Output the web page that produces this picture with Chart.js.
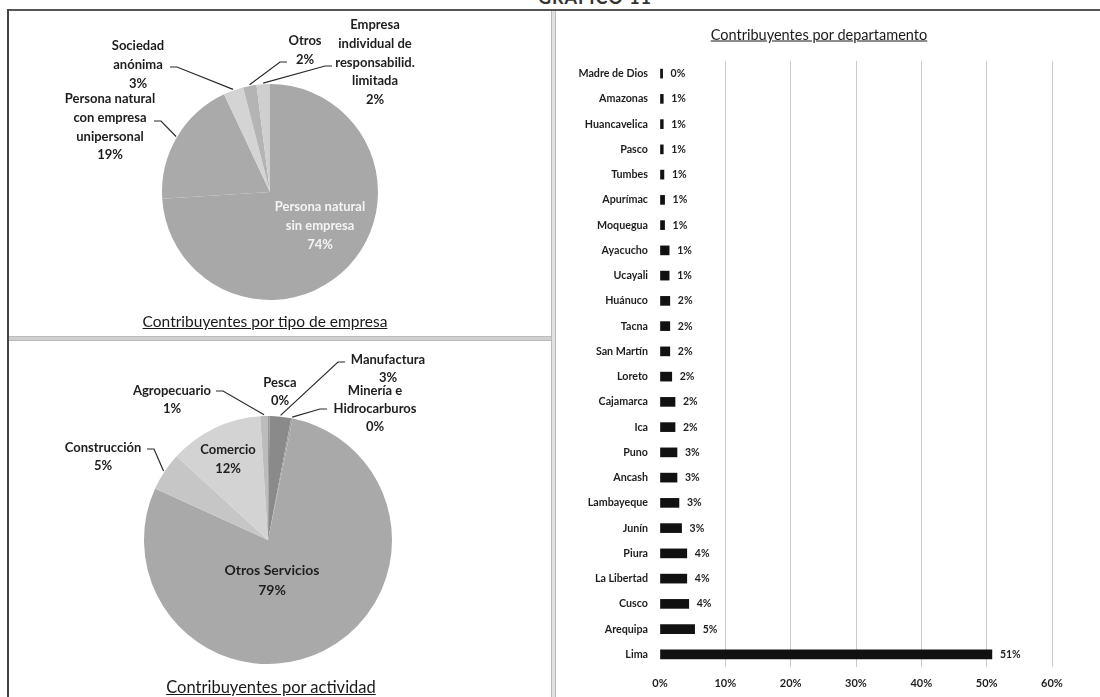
<!DOCTYPE html>
<html>
<head>
<meta charset="utf-8">
<script src="https://cdn.jsdelivr.net/npm/chart.js@4.4.1/dist/chart.umd.min.js"></script>
<style>
  html, body { margin: 0; padding: 0; background: #fff; }
  body { width: 1100px; height: 697px; position: relative; overflow: hidden; font-family: Lato, "Open Sans", sans-serif; }
  .box { position: absolute; }
  .title { position: absolute; text-align: center; text-decoration: underline; color: #1a1a1a; white-space: nowrap; transform: translate(-50%, -50%); }
</style>
</head>
<body>
<script>
// ---------- DATA ----------
const empresaCategories = [
  ['Persona natural', 'sin empresa'],
  ['Persona natural', 'con empresa', 'unipersonal'],
  ['Sociedad', 'anónima'],
  ['Otros'],
  ['Empresa', 'individual de', 'responsabilid.', 'limitada']
];
const empresaValues = [74, 19, 3, 2, 2];

const actividadCategories = [
  ['Pesca'],
  ['Manufactura'],
  ['Minería e', 'Hidrocarburos'],
  ['Otros Servicios'],
  ['Construcción'],
  ['Comercio'],
  ['Agropecuario']
];
const actividadValues = [0.2, 2.8, 0.2, 78.6, 5, 12.2, 1];

const departamentos = ['Madre de Dios', 'Amazonas', 'Huancavelica', 'Pasco', 'Tumbes', 'Apurímac', 'Moquegua',
  'Ayacucho', 'Ucayali', 'Huánuco', 'Tacna', 'San Martín', 'Loreto', 'Cajamarca', 'Ica', 'Puno', 'Ancash',
  'Lambayeque', 'Junín', 'Piura', 'La Libertad', 'Cusco', 'Arequipa', 'Lima'];
const departamentoValues = [0.4, 0.5, 0.5, 0.5, 0.6, 0.7, 0.7, 1.4, 1.4, 1.5, 1.5, 1.5, 1.8, 2.3, 2.3, 2.6, 2.6,
  2.9, 3.3, 4.1, 4.1, 4.4, 5.3, 50.8];
const xTicks = [0, 10, 20, 30, 40, 50, 60];
</script>

<!-- frame lines -->
<div class="title" style="left:595px;top:-3px;font-weight:700;font-size:18px;text-decoration:none;color:#333;letter-spacing:1px;">GRÁFICO 11</div>
<div class="box" style="left:8px;top:9px;width:1092px;height:2px;background:#555;"></div>
<div class="box" style="left:0px;top:0px;width:1100px;height:9px;overflow:hidden;"></div>
<div class="box" style="left:7px;top:9px;width:2px;height:688px;background:#444;"></div>
<div class="box" style="left:9px;top:336px;width:542px;height:3px;background:#d0d0d0;border-top:1px solid #bbb;border-bottom:1px solid #bbb;"></div>
<div class="box" style="left:551px;top:11px;width:3px;height:686px;background:#e0e0e0;border-left:1px solid #bbb;border-right:1px solid #bbb;"></div>
<div class="box" style="left:0px;top:11px;width:1100px;height:10px;background:#fff;"></div>
<div class="box" style="left:7px;top:11px;width:2px;height:10px;background:#444;"></div>
<div class="box" style="left:551px;top:11px;width:3px;height:10px;background:#e0e0e0;border-left:1px solid #bbb;border-right:1px solid #bbb;"></div>

<div class="box" style="left:10px;top:12px;width:538px;height:322px;"><canvas id="c1"></canvas></div>
<div class="box" style="left:10px;top:342px;width:538px;height:355px;"><canvas id="c2"></canvas></div>
<div class="box" style="left:553px;top:12px;width:547px;height:685px;"><canvas id="c3"></canvas></div>

<div class="title" style="left:265px;top:321px;font-size:15.5px;">Contribuyentes por tipo de empresa</div>
<div class="title" style="left:271px;top:687px;font-size:16.5px;">Contribuyentes por actividad</div>
<div class="title" style="left:819px;top:34px;font-size:14.5px;">Contribuyentes por departamento</div>

<script>
Chart.defaults.font.family = 'Lato, "Open Sans", sans-serif';
Chart.defaults.animation = false;
Chart.defaults.plugins.legend.display = false;
Chart.defaults.plugins.tooltip.enabled = false;

const pieLabels = {
  id: 'pieLabels',
  afterDatasetsDraw(chart, args, opts) {
    const ctx = chart.ctx;
    const meta = chart.getDatasetMeta(0);
    const ds = chart.data.datasets[0];
    meta.data.forEach((arc, i) => {
      const L = opts.layout[i];
      if (!L) return;
      const p = arc.getProps(['x', 'y', 'outerRadius', 'startAngle', 'endAngle'], true);
      const mid = (p.startAngle + p.endAngle) / 2;
      const name = chart.data.labels[i];
      const lines = (Array.isArray(name) ? name : [name]).concat([Math.round(ds.data[i]) + '%']);
      ctx.save();
      ctx.font = `bold ${L.size || opts.size}px Lato, "Open Sans", sans-serif`;
      ctx.fillStyle = L.color || '#1e1e1e';
      ctx.textAlign = 'center';
      ctx.textBaseline = 'middle';
      const lh = L.lh || opts.lineHeight;
      lines.forEach((t, k) => ctx.fillText(t, p.x + L.dx, p.y + L.dy + k * lh));
      if (L.lead) {
        const sx = p.x + L.lead[0], sy = p.y + L.lead[1];
        const ex = p.x + Math.cos(mid) * p.outerRadius * 1.01;
        const ey = p.y + Math.sin(mid) * p.outerRadius * 1.01;
        ctx.strokeStyle = '#2a2a2a';
        ctx.lineWidth = 1.2;
        ctx.beginPath();
        ctx.moveTo(sx, sy);
        ctx.lineTo(sx + L.lead[2] * 7, sy);
        ctx.lineTo(ex, ey);
        ctx.stroke();
      }
      ctx.restore();
    });
  }
};

new Chart(document.getElementById('c1'), {
  type: 'pie',
  data: {
    labels: empresaCategories,
    datasets: [{
      data: empresaValues,
      backgroundColor: ['#a8a8a8', '#aaaaaa', '#d4d4d4', '#b4b4b4', '#cfcfcf'],
      borderWidth: 0
    }]
  },
  options: {
    responsive: true,
    maintainAspectRatio: false,
    layout: { padding: { top: 72, bottom: 34, left: 152, right: 170 } },
    plugins: {
      pieLabels: {
        size: 13, lineHeight: 18.7,
        layout: [
          { dx: 50, dy: 15, color: '#f4f4f4' },
          { dx: -160, dy: -93, lead: [-116, -71, 1] },
          { dx: -132, dy: -146, lead: [-100, -125, 1] },
          { dx: 35, dy: -151, lead: [17, -130, -1] },
          { dx: 105, dy: -167, lead: [62, -126, -1] }
        ]
      }
    }
  },
  plugins: [pieLabels]
});

new Chart(document.getElementById('c2'), {
  type: 'pie',
  data: {
    labels: actividadCategories,
    datasets: [{
      data: actividadValues,
      backgroundColor: ['#9a9a9a', '#8a8a8a', '#a0a0a0', '#a9a9a9', '#c6c6c6', '#d3d3d3', '#bcbcbc'],
      borderWidth: 0
    }]
  },
  options: {
    responsive: true,
    maintainAspectRatio: false,
    layout: { padding: { top: 74, bottom: 33, left: 134, right: 156 } },
    plugins: {
      pieLabels: {
        size: 13, lineHeight: 18,
        layout: [
          { dx: 12, dy: -157 },
          { dx: 120, dy: -180, lead: [77, -178, -1] },
          { dx: 107, dy: -149, lead: [59, -131, -1] },
          { dx: 4, dy: 30, size: 14, lh: 20 },
          { dx: -165, dy: -92, lead: [-121, -91, 1] },
          { dx: -40, dy: -90, size: 13, lh: 19 },
          { dx: -96, dy: -149, lead: [-52, -149, 1] }
        ]
      }
    }
  },
  plugins: [pieLabels]
});

const barLabels = {
  id: 'barLabels',
  afterDatasetsDraw(chart) {
    const ctx = chart.ctx;
    const meta = chart.getDatasetMeta(0);
    const ds = chart.data.datasets[0];
    ctx.save();
    ctx.font = 'bold 10.5px Lato, "Open Sans", sans-serif';
    ctx.fillStyle = '#1e1e1e';
    ctx.textAlign = 'left';
    ctx.textBaseline = 'middle';
    meta.data.forEach((bar, i) => {
      ctx.fillText(Math.round(ds.data[i]) + '%', bar.x + 8, bar.y);
    });
    ctx.restore();
  }
};

new Chart(document.getElementById('c3'), {
  type: 'bar',
  data: {
    labels: departamentos,
    datasets: [{
      data: departamentoValues,
      backgroundColor: '#111111',
      barThickness: 9,
      borderWidth: 0
    }]
  },
  options: {
    indexAxis: 'y',
    responsive: true,
    maintainAspectRatio: false,
    layout: { padding: { top: 49, right: 48, left: 0, bottom: 0 } },
    scales: {
      x: {
        min: xTicks[0],
        max: xTicks[xTicks.length - 1],
        afterBuildTicks(scale) { scale.ticks = xTicks.map(v => ({ value: v })); },
        afterFit(scale) { scale.height = 30; },
        ticks: {
          callback: v => v + '%',
          color: '#1e1e1e',
          font: { size: 11, weight: 'bold' },
          padding: 10,
          maxRotation: 0
        },
        grid: {
          color: ctx => ctx.tick && ctx.tick.value === 0 ? 'rgba(0,0,0,0)' : '#cacaca',
          drawTicks: false,
          lineWidth: 1
        },
        border: { display: false }
      },
      y: {
        afterFit(scale) { scale.width = 107; },
        ticks: {
          color: '#1e1e1e',
          font: { size: 10.7, weight: 'bold' },
          padding: 12
        },
        grid: { display: false, drawTicks: false },
        border: { display: false }
      }
    }
  },
  plugins: [barLabels]
});
</script>
</body>
</html>
